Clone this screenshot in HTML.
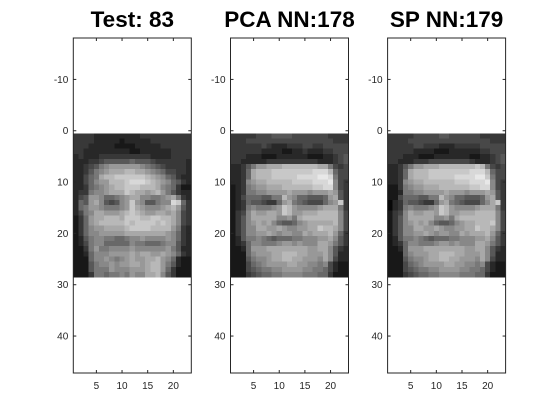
<!DOCTYPE html>
<html><head><meta charset="utf-8"><style>
html,body{margin:0;padding:0;background:#fff;width:560px;height:420px;overflow:hidden}
svg{display:block;font-family:"Liberation Sans",Arial,sans-serif}
</style></head><body>
<svg id="fig" width="560" height="420"></svg>
<script>
const titles=["Test: 83","PCA NN:178","SP NN:179"];
const xTicks=[5,10,15,20];
const yTicks=[-10,0,10,20,30,40];
const face1=[
"33332222222223333333333","33332222212222233333333","33322222111122222333333","33222222222112222223333",
"23222333333333322223333","22233455555655543333332","22345789999998765433332","2235789aaabbaa987644332",
"22467abbccccccba9865322","2246899bbbcdddcba986532","2236789abbcccbbba876311","2337889aaacbaa9ab975322",
"24599866789aa887789a732","2659a854589c9855788dc63","26799877789ca98889ab953","2478aa999abcba99aa9a843",
"1369aabbbacccbbccbba843","1369abbbbbcbccccbcba843","136899aaaabccccbbbb9732","1368899999aaaaaaaa98632",
"12578877667889888898632","12478866666877666788532","11379778888988888897522","11268889999a9aa99a98632",
"11168898789a99aab986211","11157889899aa9abb975211","11157779888999abb963111","11137767787988aab853111"];
const face2=[
"33333444555544444443333","33344444444444444444333","33333343222333443344444","33333322221122322233444",
"33322211122222211122345","33222223333333333222345","2235799aaabbbbbbbaa7434","2236abbbccccccccdddb644",
"2236abbbcccccddddeed744","22389aabbbbbccccddde843","1237899aaabbbbbbccdd843","12377889999a9998999a953",
"1246665577b986655569a53","12365543369a765444689c3","1237877789cb988889aaa73","1348a99aa9cb99aaabbbb84",
"1358aaaaa8897abbbbbbb84","13589a9a8655689aaaaab84","13588aa99a98899aacbba84","1358899a989988a9aaab963",
"1257787656667788899a853","12368877789989888aa9753","1126999aaaaaaaa99aa8532","11168999aabbbaa999a8522",
"11157889aabbaa9998a8422","11146789999aa9988784211","11145677889999887764211","11134566778888777663111"];
const face3=[
"33333444445544444433333","33334444444444444444333","33333443332223333344444","33333222211122222233444",
"33322211122222221122345","33222333444444443222345","2235799aaabbbbbbbcb7434","2236abbbccccccccdddb644",
"2236abbbcccccddddeec744","22389aabbbbbbcccddde843","1137899aaabbbbbbccdd843","11277889999a9998999a953",
"1146665577b986655569a53","02365543369a76544468ac3","0237877789cb988889aaa73","1348a99aa9cb99aaabbbb84",
"1358aaaaa8897abbbbbbb84","13589a9a8655689aabbbc84","13588aa99a98899aacbba84","1358899a989988a9aaab963",
"1257787656667788899a853","12368877789989888aa9753","1126999aaaaaaaa99aa8532","11168999aabbbaa999a8522",
"11157889aabbaa9998a8422","11146789999aa9988784211","11145677889999887764211","11134566778888777663111"];
const faces=[face1,face2,face3];
const NS="http://www.w3.org/2000/svg";
const svgEl=document.getElementById('fig');
function mk(t,a,p){const e=document.createElementNS(NS,t);for(const k in a)e.setAttribute(k,a[k]);(p||svgEl).appendChild(e);return e;}
const lefts=[73.3,230.5,387.6],AW=118,axTop=38,axBot=373;
const xmin=0.5,xmax=23.5,ymin=-18.07,ymax=47.2;
for(let p=0;p<3;p++){
  const L=lefts[p];
  const sx=v=>L+(v-xmin)/(xmax-xmin)*AW;
  const sy=v=>axTop+(v-ymin)/(ymax-ymin)*(axBot-axTop);
  const g=mk('g',{});
  
  
  const img=mk('g',{'shape-rendering':'crispEdges'},g);
  
  
  const f=faces[p];
  for(let r=0;r<f.length;r++)for(let c=0;c<f[r].length;c++){
    const v=Math.round(parseInt(f[r][c],16)/15*240)+8;
    const cell=mk('rect',{x:sx(c+0.5),y:sy(r+0.5),width:sx(c+1.5)-sx(c+0.5)+0.3,height:sy(r+1.5)-sy(r+0.5)+0.3,fill:`rgb(${v},${v},${v})`},img);
    
    
  }
  const box=mk('rect',{x:L,y:axTop,width:AW,height:axBot-axTop,fill:'none',stroke:'#262626','stroke-width':1},g);
  
  
  for(const t of xTicks){
    const x=sx(t);
    mk('line',{x1:x,x2:x,y1:axBot,y2:axBot-3,stroke:'#262626'},g);
    mk('line',{x1:x,x2:x,y1:axTop,y2:axTop+3,stroke:'#262626'},g);
    const tl=mk('text',{x:x,y:axBot+16,'text-anchor':'middle','font-size':10,fill:'#262626'},g);
    tl.textContent=t;
    
    
  }
  for(const t of yTicks){
    const y=sy(t);
    mk('line',{x1:L,x2:L+3,y1:y,y2:y,stroke:'#262626'},g);
    mk('line',{x1:L+AW,x2:L+AW-3,y1:y,y2:y,stroke:'#262626'},g);
    const tl=mk('text',{x:L-5,y:y+3.5,'text-anchor':'end','font-size':10,fill:'#262626'},g);
    tl.textContent=t;
    
    
  }
  const tt=mk('text',{x:L+AW/2,y:27,'text-anchor':'middle','font-size':22.5,'font-weight':'bold',fill:'#000'},g);
  tt.textContent=titles[p];
  
  
}
</script>
</body></html>
